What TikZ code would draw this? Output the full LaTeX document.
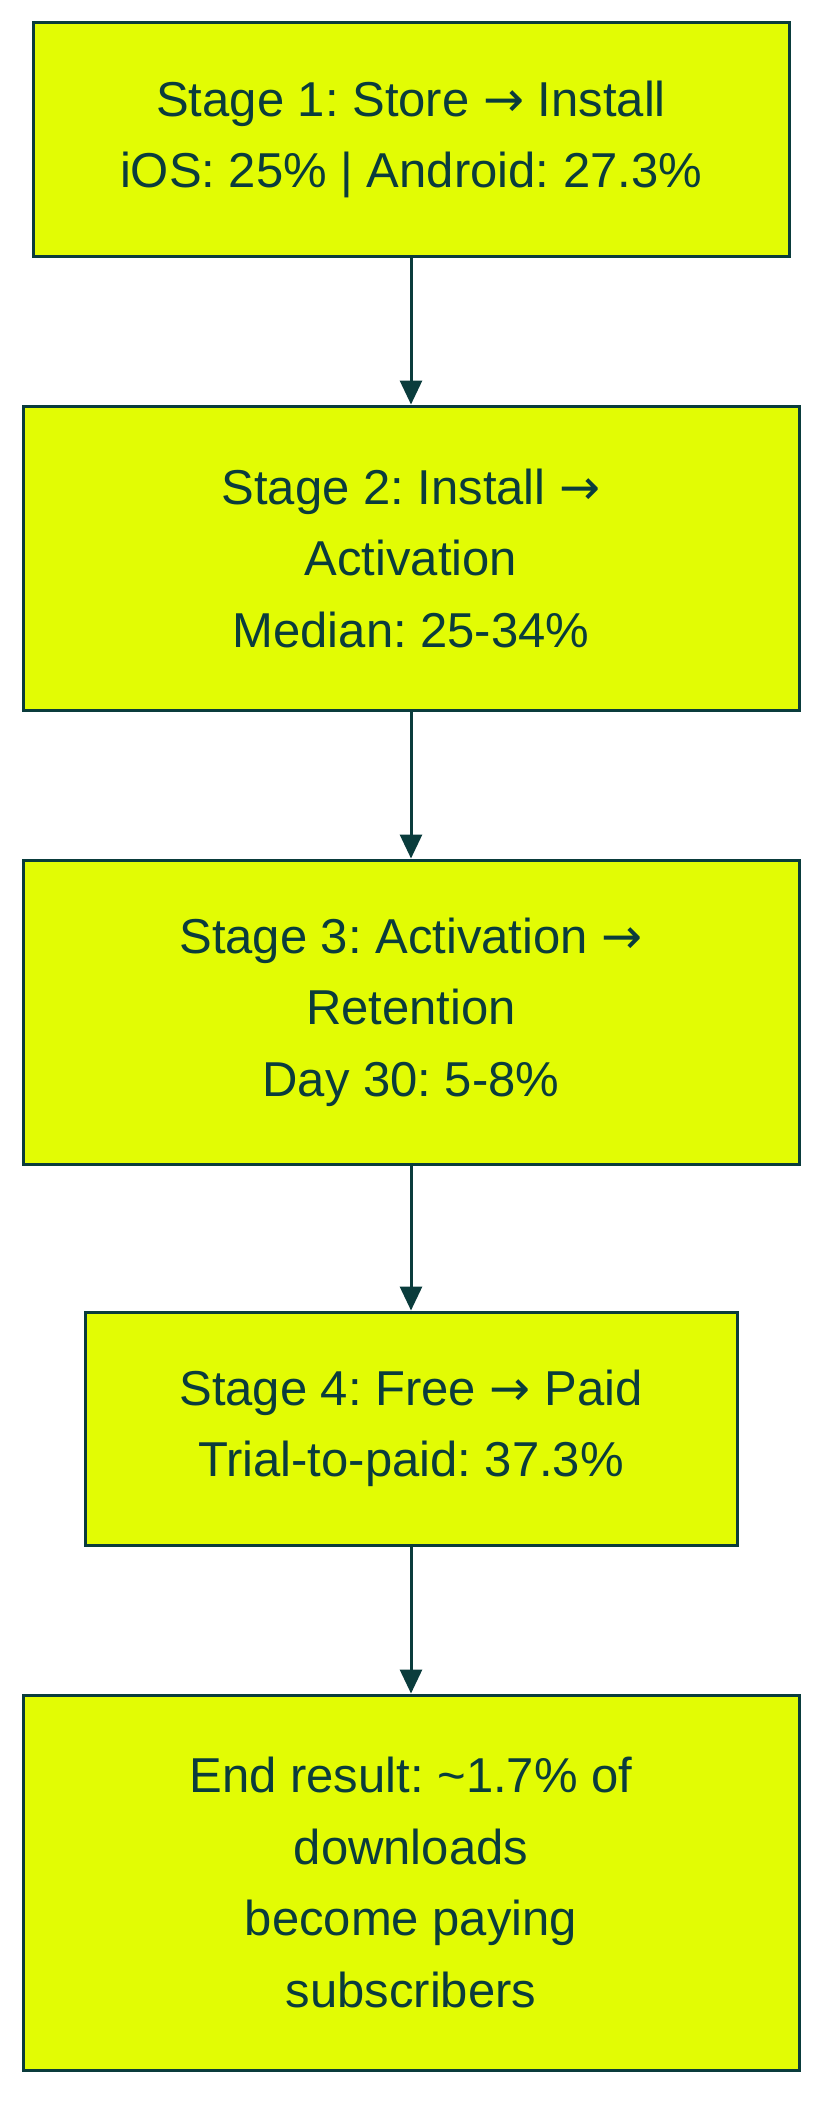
\documentclass[tikz,border=0pt]{standalone}
\usepackage{fontspec}
\setmainfont{Liberation Sans}
\newfontfamily\arrowfont{DejaVu Sans}
\newcommand{\rarr}{{\arrowfont →}}
\usetikzlibrary{arrows.meta}
\definecolor{boxfill}{RGB}{226,252,4}
\definecolor{ink}{RGB}{10,60,60}
\begin{document}
\frenchspacing
\begin{tikzpicture}[x=1pt,y=1pt,
  stagebox/.style={draw=ink, fill=boxfill, line width=3pt, inner sep=0pt, align=center, text=ink,
    font=\fontsize{49}{71.5}\selectfont\frenchspacing},
  flow/.style={draw=ink, line width=3pt, -{Triangle[length=24pt,width=22pt]}}]
\useasboundingbox (0,0) rectangle (828,-2106);
\fill[white] (0,0) rectangle (828,-2106);
\node[stagebox, minimum width=756pt, minimum height=233pt] (s1) at (411,-139.5)
  {Stage 1: Store \rarr{} Install\\iOS: 25\% | Android: 27.3\%};
\node[stagebox, minimum width=776pt, minimum height=304pt] (s2) at (411,-558)
  {Stage 2: Install \rarr\\Activation\\Median: 25-34\%};
\node[stagebox, minimum width=776pt, minimum height=304pt] (s3) at (411,-1012)
  {Stage 3: Activation \rarr\\Retention\\Day 30: 5-8\%};
\node[stagebox, minimum width=652pt, minimum height=233pt] (s4) at (411,-1428.5)
  {Stage 4: Free \rarr{} Paid\\Trial-to-paid: 37.3\%};
\node[stagebox, minimum width=776pt, minimum height=375pt] (s5) at (411,-1882.5)
  {End result: \textasciitilde1.7\% of\\downloads\\become paying\\subscribers};
\draw[flow] (s1) -- (s2);
\draw[flow] (s2) -- (s3);
\draw[flow] (s3) -- (s4);
\draw[flow] (s4) -- (s5);
\end{tikzpicture}
\end{document}
